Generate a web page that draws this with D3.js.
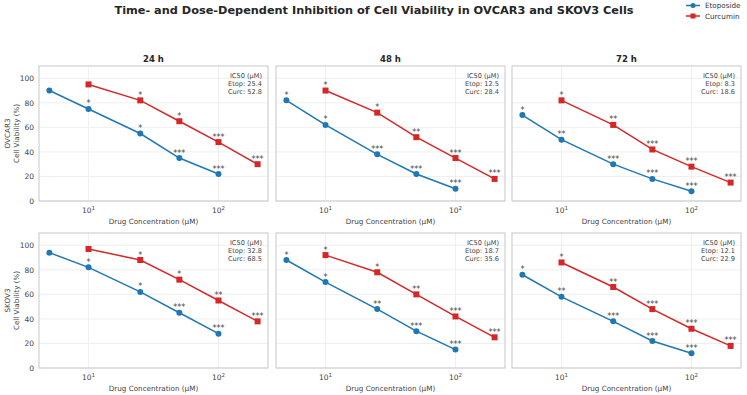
<!DOCTYPE html>
<html><head><meta charset="utf-8">
<script src="https://cdn.jsdelivr.net/npm/d3@7"></script>
<style>body{margin:0;background:#fff;} text{font-family:"DejaVu Sans",sans-serif;}</style>
</head><body><svg id="c" width="747" height="395"></svg>
<script>
const cellLines = ["OVCAR3", "SKOV3"];
const times = ["24 h", "48 h", "72 h"];
const etopConc = [5, 10, 25, 50, 100];
const curcConc = [10, 25, 50, 100, 200];
// [cellLine][time] viability (%)
const etopVals = [
  [[90, 75, 55, 35, 22], [82, 62, 38, 22, 10], [70, 50, 30, 18, 8]],
  [[94, 82, 62, 45, 28], [88, 70, 48, 30, 15], [76, 58, 38, 22, 12]]
];
const curcVals = [
  [[95, 82, 65, 48, 30], [90, 72, 52, 35, 18], [82, 62, 42, 28, 15]],
  [[97, 88, 72, 55, 38], [92, 78, 60, 42, 25], [86, 66, 48, 32, 18]]
];
const etopStars = [
  [["", "*", "*", "***", "***"], ["*", "*", "***", "***", "***"], ["*", "**", "***", "***", "***"]],
  [["", "*", "*", "***", "***"], ["*", "*", "**", "***", "***"], ["*", "**", "***", "***", "***"]]
];
const curcStars = [
  [["", "*", "*", "***", "***"], ["*", "*", "**", "***", "***"], ["*", "**", "***", "***", "***"]],
  [["", "*", "*", "**", "***"], ["*", "*", "**", "***", "***"], ["*", "**", "***", "***", "***"]]
];
const ic50Etop = [[25.4, 12.5, 8.3], [32.8, 18.7, 12.1]];
const ic50Curc = [[52.8, 28.4, 18.6], [68.5, 35.6, 22.9]];
const yTicks = [0, 20, 40, 60, 80, 100];
const xTicks = [10, 100];
const seriesNames = ["Etoposide", "Curcumin"];
const colors = ["#1f77b4", "#d62728"];

const svg = d3.select("#c");
const colX = [39, 276, 512], pw = 229;
const rowY = [66, 233], ph = 135;

svg.append("text").attr("x", 374).attr("y", 14).attr("text-anchor", "middle")
  .attr("font-size", 11.3).attr("font-weight", "bold").attr("fill", "#262626")
  .text("Time- and Dose-Dependent Inhibition of Cell Viability in OVCAR3 and SKOV3 Cells");

const x = d3.scaleLog().domain([Math.pow(10, 0.619), Math.pow(10, 2.381)]).range([0, pw]);
const y = d3.scaleLinear().domain([0, 110]).range([ph, 0]);

cellLines.forEach((cl, r) => {
  times.forEach((t, c) => {
    const g = svg.append("g").attr("transform", `translate(${colX[c]},${rowY[r]})`);
    // grid
    g.selectAll(".gy").data(yTicks).enter().append("line")
      .attr("x1", 0).attr("x2", pw).attr("y1", d => y(d)).attr("y2", d => y(d))
      .attr("stroke", "#ebebeb").attr("stroke-width", 0.8);
    g.selectAll(".gx").data(xTicks).enter().append("line")
      .attr("y1", 0).attr("y2", ph).attr("x1", d => x(d)).attr("x2", d => x(d))
      .attr("stroke", "#ebebeb").attr("stroke-width", 0.8);
    // frame
    g.append("rect").attr("x", 0).attr("y", 0).attr("width", pw).attr("height", ph)
      .attr("fill", "none").attr("stroke", "#cccccc").attr("stroke-width", 1.1);
    // x ticks
    xTicks.forEach(v => {
      const tt = g.append("text").attr("x", x(v)).attr("y", ph + 12).attr("text-anchor", "middle")
        .attr("font-size", 7.5).attr("fill", "#444");
      tt.append("tspan").text("10");
      tt.append("tspan").attr("dy", -3).attr("font-size", 5.5).text(Math.round(Math.log10(v)));
    });
    g.append("text").attr("x", pw / 2).attr("y", ph + 23).attr("text-anchor", "middle")
      .attr("font-size", 7.2).attr("fill", "#444").text("Drug Concentration (µM)");
    if (c === 0) {
      g.selectAll(".yt").data(yTicks).enter().append("text")
        .attr("x", -5).attr("y", d => y(d) + 2.7).attr("text-anchor", "end")
        .attr("font-size", 7.5).attr("fill", "#444").text(d => d);
      const yl = g.append("text").attr("transform", `translate(-20,${ph / 2}) rotate(-90)`)
        .attr("text-anchor", "middle").attr("font-size", 7.2).attr("fill", "#444");
      yl.append("tspan").attr("x", 0).attr("dy", -9).text(cl);
      yl.append("tspan").attr("x", 0).attr("dy", 9).text("Cell Viability (%)");
    }
    if (r === 0) {
      svg.append("text").attr("x", colX[c] + pw / 2).attr("y", rowY[0] - 4).attr("text-anchor", "middle")
        .attr("font-size", 8.5).attr("font-weight", "bold").attr("fill", "#262626").text(t);
    }
    const line = d3.line().x(d => x(d[0])).y(d => y(d[1]));
    const eData = etopConc.map((cc, i) => [cc, etopVals[r][c][i], etopStars[r][c][i]]);
    const cData = curcConc.map((cc, i) => [cc, curcVals[r][c][i], curcStars[r][c][i]]);
    [eData, cData].forEach((data, s) => {
      g.append("path").datum(data).attr("d", line).attr("fill", "none")
        .attr("stroke", colors[s]).attr("stroke-width", 1.5);
      if (s === 0) {
        g.selectAll(".m0").data(data).enter().append("circle")
          .attr("cx", d => x(d[0])).attr("cy", d => y(d[1])).attr("r", 3).attr("fill", colors[s]);
      } else {
        g.selectAll(".m1").data(data).enter().append("rect")
          .attr("x", d => x(d[0]) - 3).attr("y", d => y(d[1]) - 3).attr("width", 6).attr("height", 6)
          .attr("fill", colors[s]);
      }
      g.selectAll(".st" + s).data(data.filter(d => d[2])).enter().append("text")
        .attr("x", d => x(d[0])).attr("y", d => y(d[1]) - 2.5).attr("text-anchor", "middle")
        .attr("font-size", 8).attr("fill", "#444").text(d => d[2]);
    });
    const ic = g.append("text").attr("text-anchor", "end").attr("font-size", 6.6).attr("fill", "#444");
    ["IC50 (µM)", "Etop: " + ic50Etop[r][c], "Curc: " + ic50Curc[r][c]].forEach((s, i) => {
      ic.append("tspan").attr("x", pw - 6).attr("y", 12 + i * 8).text(s);
    });
  });
});

// legend
seriesNames.forEach((n, i) => {
  const ly = 5.5 + i * 10.5;
  const lg = svg.append("g");
  lg.append("line").attr("x1", 686).attr("x2", 700).attr("y1", ly).attr("y2", ly)
    .attr("stroke", colors[i]).attr("stroke-width", 1.5);
  if (i === 0) lg.append("circle").attr("cx", 693).attr("cy", ly).attr("r", 2.5).attr("fill", colors[i]);
  else lg.append("rect").attr("x", 690.5).attr("y", ly - 2.5).attr("width", 5).attr("height", 5).attr("fill", colors[i]);
  lg.append("text").attr("x", 705).attr("y", ly + 2.5).attr("font-size", 7.2).attr("fill", "#333").text(n);
});
</script></body></html>
